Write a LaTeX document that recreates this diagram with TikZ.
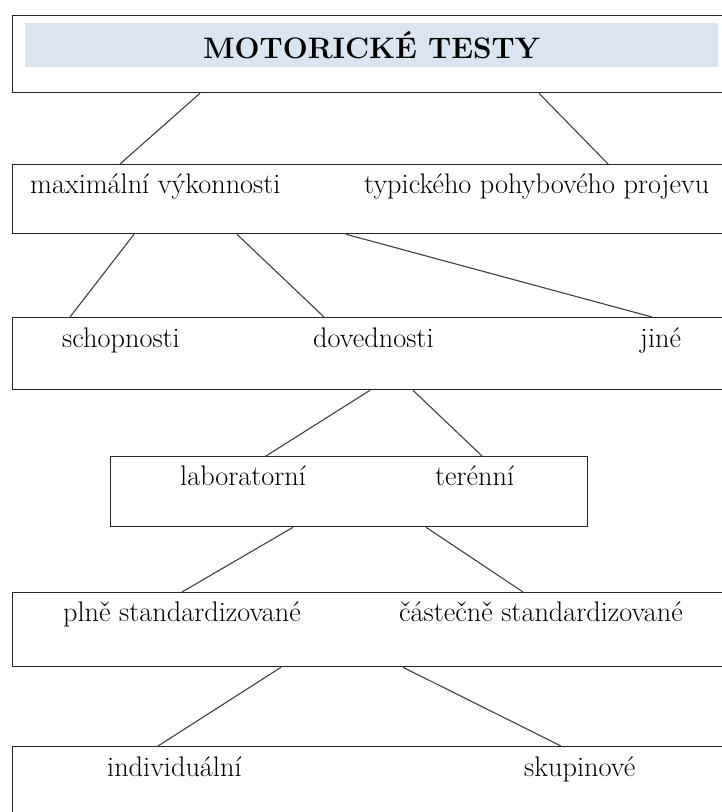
\documentclass[tikz,border=0pt]{standalone}
\usetikzlibrary{positioning}

\definecolor{barblue}{HTML}{DBE5F1}

\begin{document}
\begin{tikzpicture}[
    x=1pt, y=-1pt,
    tier/.style={rectangle, draw=black!85, line width=1.3pt, anchor=north west, inner sep=0pt},
    titlebar/.style={rectangle, fill=barblue, minimum width=693pt, minimum height=44pt, inner sep=0pt, font=\fontsize{29.6}{35}\selectfont\bfseries},
    lbl/.style={anchor=base west, inner sep=0pt, font=\fontsize{28.3}{33}\selectfont},
    link/.style={draw=black!75, line width=1.1pt}
]
    \useasboundingbox (0,0) rectangle (722,812);
    \fill[white] (0,0) rectangle (722,812);
    \clip (0,0) rectangle (722,812);

    % boxes (the wide ones run off the right edge)
    \node[tier, minimum width=740pt, minimum height=77pt] (box1) at (12,15) {};
    \node[tier, minimum width=740pt, minimum height=69pt] (box2) at (12,164) {};
    \node[tier, minimum width=740pt, minimum height=72pt] (box3) at (12,317) {};
    \node[tier, minimum width=477pt, minimum height=70pt] (box4) at (110,456) {};
    \node[tier, minimum width=740pt, minimum height=74pt] (box5) at (12,592) {};
    \node[tier, minimum width=740pt, minimum height=90pt] (box6) at (12,746) {};

    \node[titlebar] (title) at (371.5,45) {MOTORICKÉ TESTY};

    % labels
    \node[lbl] (maxim) at (30,193) {maximální výkonnosti};
    \node[lbl] (typic) at (364,193) {typického pohybového projevu};
    \node[lbl] (schop) at (62,347) {schopnosti};
    \node[lbl] (doved) at (313,347) {dovednosti};
    \node[lbl] (jine) at (640,347) {jiné};
    \node[lbl] (labor) at (180,485) {laboratorní};
    \node[lbl] (teren) at (435,485) {terénní};
    \node[lbl] (plne) at (63,621) {plně standardizované};
    \node[lbl] (castec) at (399,621) {částečně standardizované};
    \node[lbl] (indiv) at (107,776) {individuální};
    \node[lbl] (skup) at (524,776) {skupinové};

    % connectors
    \draw[link] ([xshift=188pt]box1.south west) -- ([xshift=108pt]box2.north west);
    \draw[link] ([xshift=527pt]box1.south west) -- ([xshift=596pt]box2.north west);

    \draw[link] ([xshift=122pt]box2.south west) -- ([xshift=58pt]box3.north west);
    \draw[link] ([xshift=225pt]box2.south west) -- ([xshift=312pt]box3.north west);
    \draw[link] ([xshift=334pt]box2.south west) -- ([xshift=640pt]box3.north west);

    \draw[link] ([xshift=358pt]box3.south west) -- ([xshift=156pt]box4.north west);
    \draw[link] ([xshift=401pt]box3.south west) -- ([xshift=372pt]box4.north west);

    \draw[link] ([xshift=183pt]box4.south west) -- ([xshift=170pt]box5.north west);
    \draw[link] ([xshift=316pt]box4.south west) -- ([xshift=511pt]box5.north west);

    \draw[link] ([xshift=269pt]box5.south west) -- ([xshift=146pt]box6.north west);
    \draw[link] ([xshift=391pt]box5.south west) -- ([xshift=549pt]box6.north west);
\end{tikzpicture}
\end{document}
